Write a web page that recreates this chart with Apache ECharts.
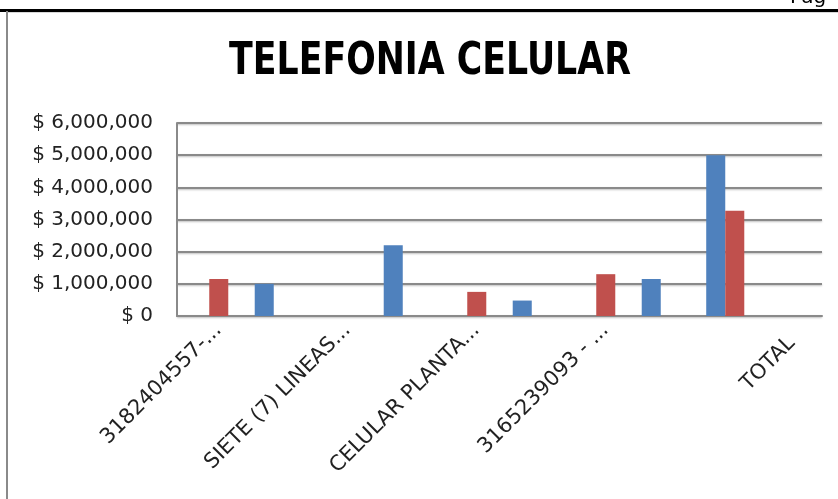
<!DOCTYPE html>
<html>
<head>
<meta charset="utf-8">
<script src="https://cdn.jsdelivr.net/npm/echarts@6/dist/echarts.min.js"></script>
<style>
  html, body { margin: 0; padding: 0; background: #fff; }
  #chart { width: 838px; height: 499px; }
</style>
</head>
<body>
<div id="chart"></div>
<script>
// categorias del eje x (solo una de cada dos lleva texto)
var categorias = ['3182404557-...', '', 'SIETE (7) LINEAS...', '', 'CELULAR PLANTA...', '', '3165239093 - ...', '', 'TOTAL', ''];
// serie azul y serie roja
var serieAzul = [null, 1000000, null, 2200000, null, 480000, null, 1150000, 5000000, null];
var serieRoja = [1150000, null, null, null, 750000, null, 1300000, null, 3270000, null];
// marcas del eje y
var ticksY = [0, 1000000, 2000000, 3000000, 4000000, 5000000, 6000000];

var chart = echarts.init(document.getElementById('chart'));

function pesos(v) {
  return '$ ' + String(v).replace(/\B(?=(\d{3})+(?!\d))/g, ',');
}

// etiquetas del eje x; la de TOTAL va corrida a la derecha como en Excel
var datosX = categorias.map(function (c) {
  if (c === 'TOTAL') {
    return { value: c, textStyle: { padding: [0, -44, 0, 0] } };
  }
  return c;
});

var option = {
  animation: false,
  color: ['#4F81BD', '#C0504D'],
  graphic: [
    // borde superior de la pagina
    { type: 'rect', shape: { x: 0, y: 9, width: 838, height: 3 }, style: { fill: '#000' } },
    { type: 'rect', shape: { x: 8, y: 12, width: 830, height: 1 }, style: { fill: '#d8d8d8' } },
    // borde izquierdo
    { type: 'rect', shape: { x: 6, y: 11, width: 2, height: 488 }, style: { fill: '#8a8a8a' } },
    // texto cortado arriba a la derecha
    { type: 'text', x: 790, y: 8, style: { text: 'Pag', font: '20px "DejaVu Sans", sans-serif', fill: '#000', textVerticalAlign: 'bottom' } },
    // titulo
    {
      type: 'text', x: 430, y: 63, scaleX: 0.79,
      style: {
        text: 'TELEFONIA CELULAR',
        font: 'bold 44px "DejaVu Sans", sans-serif',
        fill: '#000',
        textAlign: 'center',
        textVerticalAlign: 'middle'
      }
    }
  ],
  grid: {
    left: 177,
    right: 16,
    top: 123,
    bottom: 183,
    containLabel: false
  },
  xAxis: {
    type: 'category',
    data: datosX,
    axisTick: { show: false },
    axisLine: { lineStyle: { color: '#8a8a8a', width: 2 } },
    axisLabel: {
      interval: 0,
      rotate: 45,
      margin: 20,
      padding: [0, -13, 0, 0],
      color: '#222',
      fontFamily: '"DejaVu Sans", sans-serif',
      fontSize: 21,
      formatter: function (v) {
        return v === 'TOTAL' ? '{sp| }\n' + v : v;
      },
      rich: {
        sp: { height: 100, fontSize: 21 }
      }
    }
  },
  yAxis: {
    type: 'value',
    min: ticksY[0],
    max: ticksY[ticksY.length - 1],
    interval: 1000000,
    axisLine: { show: true, lineStyle: { color: '#8a8a8a', width: 2 } },
    axisTick: { show: false },
    axisLabel: {
      margin: 24,
      color: '#222',
      fontFamily: '"DejaVu Sans", sans-serif',
      fontSize: 20,
      formatter: pesos
    },
    splitLine: {
      lineStyle: { color: '#8a8a8a', width: 2, shadowColor: 'rgba(0,0,0,0.25)', shadowBlur: 2, shadowOffsetY: 1 }
    }
  },
  series: [
    {
      name: 'Azul',
      type: 'bar',
      data: serieAzul,
      barGap: '0%',
      barCategoryGap: '41%'
    },
    {
      name: 'Roja',
      type: 'bar',
      data: serieRoja
    }
  ]
};
chart.setOption(option);
</script>
</body>
</html>
